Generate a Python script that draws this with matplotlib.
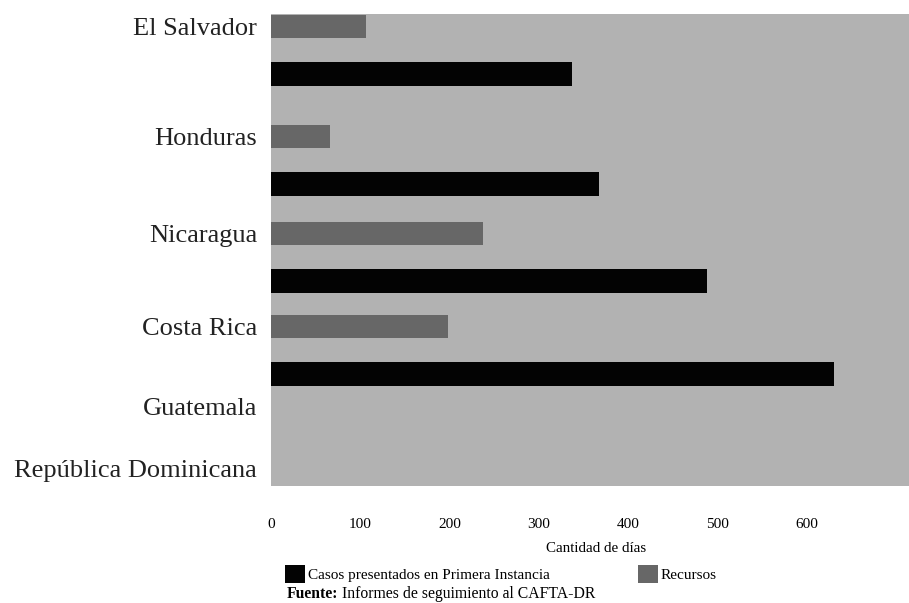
import numpy as np
import matplotlib
matplotlib.use("Agg")
import matplotlib.pyplot as plt

plt.rcParams['font.family'] = ['Liberation Serif', 'DejaVu Serif']

# Data: average number of days per country
countries = ["El Salvador", "Honduras", "Nicaragua", "Costa Rica",
             "Guatemala", "República Dominicana"]
recursos = [107, 66, 238, 198, 0, 0]
casos_primera = [337, 368, 489, 631, 0, 0]
x_ticks = [0, 100, 200, 300, 400, 500, 600]

series_labels = ["Casos presentados en Primera Instancia", "Recursos"]
xlabel = "Cantidad de días"

# Layout of the category rows (in row units, top to bottom)
row_pos = np.array([0.0, 2.23, 4.20, 6.09, 7.72, 8.98])
casos_shift = 0.97
gray_h = 0.466
black_h = 0.49

bg = "#b2b2b2"
c_rec = "#676767"
c_casos = "#030303"

fig = plt.figure(figsize=(9.09, 6.03), dpi=100)
ax = fig.add_axes([271 / 909, 1 - 486 / 603, (909 - 271) / 909, (486 - 14) / 603])
ax.set_facecolor(bg)

b_rec = ax.barh(row_pos, recursos, height=gray_h, color=c_rec, linewidth=0)
b_casos = ax.barh(row_pos + casos_shift, casos_primera, height=black_h,
                  color=c_casos, linewidth=0)

ax.set_xlim(0, 715)
ax.set_ylim(9.34, -0.254)

ax.set_yticks(row_pos)
ax.set_yticklabels(countries, fontsize=19, color="#222222")
ax.set_xticks(x_ticks)
ax.set_xticklabels([str(v) for v in x_ticks], fontsize=11)
ax.tick_params(axis="y", length=0, pad=10)
ax.tick_params(axis="x", length=0, pad=23)
for s in ax.spines.values():
    s.set_visible(False)

fig.text(596 / 909, 1 - 549 / 603, xlabel, fontsize=10.8, ha="center", va="center")

fig.legend(handles=[b_casos, b_rec], labels=series_labels, ncol=2,
           loc="center left", bbox_to_anchor=(285 / 909, 1 - 574 / 603),
           frameon=False, fontsize=11, handlelength=1.3, handleheight=1.45,
           handletextpad=0.2, columnspacing=5.75, borderpad=0, borderaxespad=0)

t = fig.text(287 / 909, 1 - 594 / 603, "Fuente:", fontsize=11.3,
             fontweight="bold", ha="left", va="center")
ax.annotate(" Informes de seguimiento al CAFTA-DR", xy=(1, 0.5),
            xycoords=t, fontsize=11.3, ha="left", va="center",
            annotation_clip=False)

fig.savefig("out.png", dpi=100)
